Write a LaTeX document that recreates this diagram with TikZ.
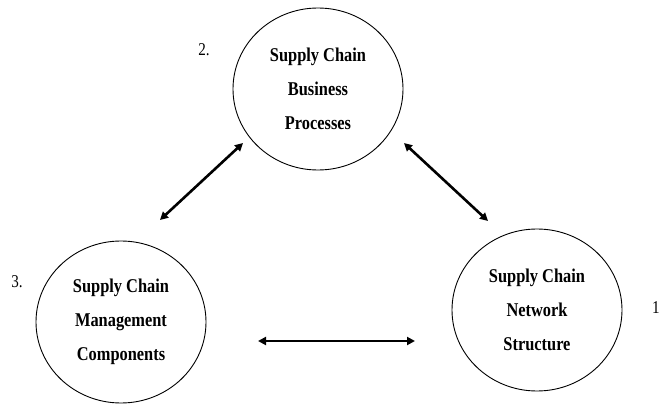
\documentclass[tikz,border=0pt]{standalone}
\usepackage{fontspec}
\setmainfont{Liberation Serif}[FakeStretch=0.84]
\usetikzlibrary{arrows.meta,shapes.geometric}
\tikzset{
  circ/.style={draw, ellipse, line width=0.9pt, minimum width=170pt, minimum height=162pt, inner sep=0pt,
    align=center, font=\fontsize{19.5}{34}\selectfont\bfseries},
  rel/.style={line width=2.6pt, {Triangle[length=8pt,width=8pt]}-{Triangle[length=8pt,width=8pt]}},
  num/.style={font=\fontsize{18}{20}\selectfont, inner sep=0pt}
}
\begin{document}
\begin{tikzpicture}[x=1pt,y=-1pt]
\useasboundingbox (0,0) rectangle (662,404);
\node[circ] (bp) at (318,89) {Supply Chain\\Business\\Processes};
\node[circ] (mc) at (121,322) {Supply Chain\\Management\\Components};
\node[circ] (ns) at (537,310) {Supply Chain\\Network\\Structure};
\node[num] (n2) at (204,50) {2.};
\node[num] (n3) at (17,282) {3.};
\node[num, anchor=east] (n1) at (660,308) {1};
\coordinate (a1) at (243,143);
\coordinate (a2) at (160,220);
\coordinate (b1) at (404,143);
\coordinate (b2) at (488,221);
\coordinate (c1) at (258,341);
\coordinate (c2) at (415,341);
\draw[rel] (a2) -- (a1);
\draw[rel] (b1) -- (b2);
\draw[rel] (c1) -- (c2);
\end{tikzpicture}
\end{document}
